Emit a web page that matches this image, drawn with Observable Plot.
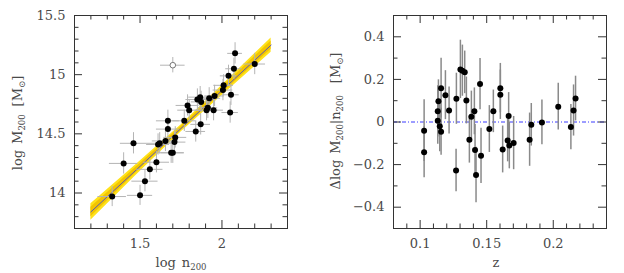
<!DOCTYPE html>
<html><head><meta charset="utf-8">
<script src="https://cdn.jsdelivr.net/npm/d3@7"></script>
<script src="https://cdn.jsdelivr.net/npm/@observablehq/plot@0.6"></script>
<style>
body{margin:0;background:#fff;}
#wrap{display:flex;width:624px;height:273px;overflow:hidden;}
</style></head><body><div id="wrap"></div>
<script>
// ---- Left panel: log M200 vs log n200 ----
const logN    = [1.33,1.40,1.46,1.50,1.53,1.56,1.60,1.61,1.62,1.655,1.67,1.67,1.69,1.70,1.71,1.715,1.77,1.79,1.80,1.84,1.85,1.867,1.873,1.87,1.906,1.914,1.922,1.949,1.955,2.006,2.01,2.04,2.05,2.055,2.073,2.08,2.20];
const logM    = [13.97,14.25,14.42,13.98,14.10,14.20,14.26,14.41,14.42,14.44,14.61,14.54,14.34,14.34,14.43,14.47,14.61,14.74,14.70,14.52,14.79,14.81,14.77,14.58,14.70,14.72,14.80,14.70,14.82,14.87,14.91,14.99,14.68,14.83,15.05,15.18,15.09];
const logNErr = [0.087,0.087,0.08,0.077,0.08,0.08,0.08,0.07,0.08,0.08,0.07,0.07,0.08,0.07,0.07,0.07,0.07,0.07,0.07,0.06,0.07,0.07,0.06,0.06,0.07,0.06,0.07,0.06,0.06,0.06,0.06,0.05,0.05,0.05,0.05,0.045,0.066];
const logMErr = [0.085,0.09,0.09,0.085,0.09,0.09,0.09,0.09,0.09,0.09,0.09,0.09,0.09,0.09,0.09,0.09,0.09,0.09,0.09,0.09,0.09,0.09,0.09,0.09,0.09,0.09,0.09,0.09,0.09,0.09,0.09,0.09,0.09,0.09,0.09,0.09,0.09];
const outN = [1.70], outM = [15.08], outNErr = [0.075], outMErr = [0.065];
// fit line and its confidence bands
const fitX     = [1.2, 1.475, 1.75, 2.025, 2.3];
const fitY     = [13.84, 14.193, 14.545, 14.898, 15.25];
const bandOutLo= [13.77, 14.148, 14.515, 14.853, 15.19];
const bandOutHi= [13.91, 14.238, 14.575, 14.943, 15.31];
const bandInLo = [13.80, 14.168, 14.530, 14.873, 15.215];
const bandInHi = [13.88, 14.218, 14.560, 14.923, 15.285];
const xMajorL = [1.5, 2];
const xMinorL = [1.2,1.3,1.4,1.6,1.7,1.8,1.9,2.1,2.2,2.3];
const yMajorL = [14, 14.5, 15, 15.5];
const yMinorL = [13.8,13.9,14.1,14.2,14.3,14.4,14.6,14.7,14.8,14.9,15.1,15.2,15.3,15.4];

// ---- Right panel: residuals vs z ----
const zVals  = [0.103,0.103,0.11325,0.11375,0.11325,0.11475,0.11575,0.11575,0.119,0.12175,0.127,0.12725,0.13025,0.13175,0.1335,0.13475,0.137,0.1385,0.14075,0.14125,0.142,0.145,0.14575,0.152,0.155,0.16025,0.16025,0.162,0.16575,0.1665,0.167,0.17025,0.18225,0.1835,0.1915,0.20375,0.21325,0.21525,0.21675];
const dlogM  = [-0.041,-0.142,0.050,0.098,0.006,-0.020,0.159,-0.046,0.126,0.054,-0.228,0.109,0.247,0.241,0.233,0.101,-0.083,0.025,0.050,-0.132,-0.249,0.178,-0.159,-0.033,0.050,0.159,0.128,-0.129,-0.087,0.028,-0.110,-0.099,-0.083,-0.013,-0.002,0.072,-0.024,0.054,0.110];
const dlogMErr=[0.145,0.12,0.12,0.10,0.11,0.12,0.14,0.11,0.115,0.11,0.10,0.12,0.137,0.12,0.10,0.11,0.11,0.12,0.11,0.12,0.13,0.12,0.13,0.11,0.10,0.116,0.116,0.11,0.10,0.11,0.11,0.125,0.125,0.10,0.105,0.11,0.106,0.12,0.105];
const xMajorR = [0.1, 0.15, 0.2];
const xMinorR = [0.09,0.11,0.12,0.13,0.14,0.16,0.17,0.18,0.19,0.21,0.22,0.23];
const yMajorR = [-0.4,-0.2,0,0.2,0.4];
const yMinorR = [-0.3,-0.1,0.1,0.3];

const FONT = '"DejaVu Serif", serif';
const INK = "#333";
const TXT = "#4a4a4a";
const FW = 213, FH = 213;
const MINOR = 4.5, MAJOR = 8;
const fmt = d => (d < 0 ? "−" + String(-d) : String(d));

function frameTicks(xMaj, xMin, yMaj, yMin) {
  return [
    Plot.tickX(xMin, {insetTop: FH - MINOR, stroke: INK}),
    Plot.tickX(xMin, {insetBottom: FH - MINOR, stroke: INK}),
    Plot.tickX(xMaj, {insetTop: FH - MAJOR, stroke: INK}),
    Plot.tickX(xMaj, {insetBottom: FH - MAJOR, stroke: INK}),
    Plot.tickY(yMin, {insetRight: FW - MINOR, stroke: INK}),
    Plot.tickY(yMin, {insetLeft: FW - MINOR, stroke: INK}),
    Plot.tickY(yMaj, {insetRight: FW - MAJOR, stroke: INK}),
    Plot.tickY(yMaj, {insetLeft: FW - MAJOR, stroke: INK}),
    Plot.frame({stroke: INK}),
    Plot.axisX(xMaj, {tickSize: 0, tickPadding: 10, fontSize: 13, label: null, tickFormat: fmt, fill: TXT}),
    Plot.axisY(yMaj, {tickSize: 0, tickPadding: 9, fontSize: 13, label: null, tickFormat: fmt, fill: TXT})
  ];
}

const pts = logN.map((n, i) => ({n, m: logM[i], ne: logNErr[i], me: logMErr[i]}));
const outl = outN.map((n, i) => ({n, m: outM[i], ne: outNErr[i], me: outMErr[i]}));
const band = fitX.map((x, i) => ({x, y: fitY[i], lo2: bandOutLo[i], hi2: bandOutHi[i], lo1: bandInLo[i], hi1: bandInHi[i]}));

const left = Plot.plot({
  width: 312, height: 273,
  marginLeft: 74, marginRight: 25, marginTop: 15, marginBottom: 45,
  style: {fontFamily: FONT, fontSize: "13px", color: INK, background: "white", overflow: "visible"},
  x: {domain: [1.1, 2.4], label: null},
  y: {domain: [13.7, 15.5], label: null},
  marks: [
    Plot.areaY(band, {x: "x", y1: "lo2", y2: "hi2", fill: "#ffe21a"}),
    Plot.areaY(band, {x: "x", y1: "lo1", y2: "hi1", fill: "#f2c400"}),
    Plot.line(band, {x: "x", y: "y", stroke: "#5a5ab4", strokeWidth: 1}),
    Plot.ruleX(pts, {x: "n", y1: d => d.m - d.me, y2: d => d.m + d.me, stroke: "#b4b4b4"}),
    Plot.ruleY(pts, {y: "m", x1: d => d.n - d.ne, x2: d => d.n + d.ne, stroke: "#b4b4b4"}),
    Plot.ruleX(outl, {x: "n", y1: d => d.m - d.me, y2: d => d.m + d.me, stroke: "#b4b4b4"}),
    Plot.ruleY(outl, {y: "m", x1: d => d.n - d.ne, x2: d => d.n + d.ne, stroke: "#b4b4b4"}),
    Plot.dot(outl, {x: "n", y: "m", r: 2.8, fill: "white", stroke: "#777", strokeWidth: 1}),
    Plot.dot(pts, {x: "n", y: "m", r: 3, fill: "black"}),
    ...frameTicks(xMajorL, xMinorL, yMajorL, yMinorL)
  ]
});

const res = zVals.map((z, i) => ({z, d: dlogM[i], e: dlogMErr[i]}));
const right = Plot.plot({
  width: 312, height: 273,
  marginLeft: 81, marginRight: 18, marginTop: 15, marginBottom: 45,
  style: {fontFamily: FONT, fontSize: "13px", color: INK, background: "white", overflow: "visible"},
  x: {domain: [0.08, 0.24], label: null},
  y: {domain: [-0.5, 0.5], label: null},
  marks: [
    Plot.ruleY([0], {stroke: "#3a3aff", strokeWidth: 1, strokeDasharray: "4,2,1,2"}),
    Plot.ruleX(res, {x: "z", y1: d => d.d - d.e, y2: d => d.d + d.e, stroke: "#8a8a8a", strokeWidth: 1.5}),
    Plot.dot(res, {x: "z", y: "d", r: 3, fill: "black"}),
    ...frameTicks(xMajorR, xMinorR, yMajorR, yMinorR)
  ]
});

document.getElementById("wrap").append(left, right);

function addLabel(svg, x, y, rot, parts) {
  const t = d3.select(svg).append("text")
    .attr("transform", `translate(${x},${y})` + (rot ? " rotate(-90)" : ""))
    .attr("text-anchor", "middle")
    .attr("font-family", FONT).attr("font-size", 13).attr("fill", TXT);
  for (const p of parts) {
    const s = t.append("tspan").text(p.t);
    if (p.sub) s.attr("font-size", 8.5).attr("dy", 3);
    if (p.up) s.attr("dy", -3);
    if (p.dx) s.attr("dx", p.dx);
  }
}
addLabel(left, 22, 123, true, [
  {t: "log"}, {t: "M", dx: 6}, {t: "200", sub: true}, {t: "[M", dx: 8, up: true}, {t: "⊙", sub: true}, {t: "]", up: true}
]);
addLabel(left, 181, 267, false, [
  {t: "log"}, {t: "n", dx: 6}, {t: "200", sub: true}
]);
addLabel(right, 28, 121, true, [
  {t: "Δlog"}, {t: "M", dx: 6}, {t: "200", sub: true}, {t: "|n", up: true}, {t: "200", sub: true}, {t: "[M", dx: 12, up: true}, {t: "⊙", sub: true}, {t: "]", up: true}
]);
addLabel(right, 184, 267, false, [{t: "z"}]);
</script>
</body></html>
